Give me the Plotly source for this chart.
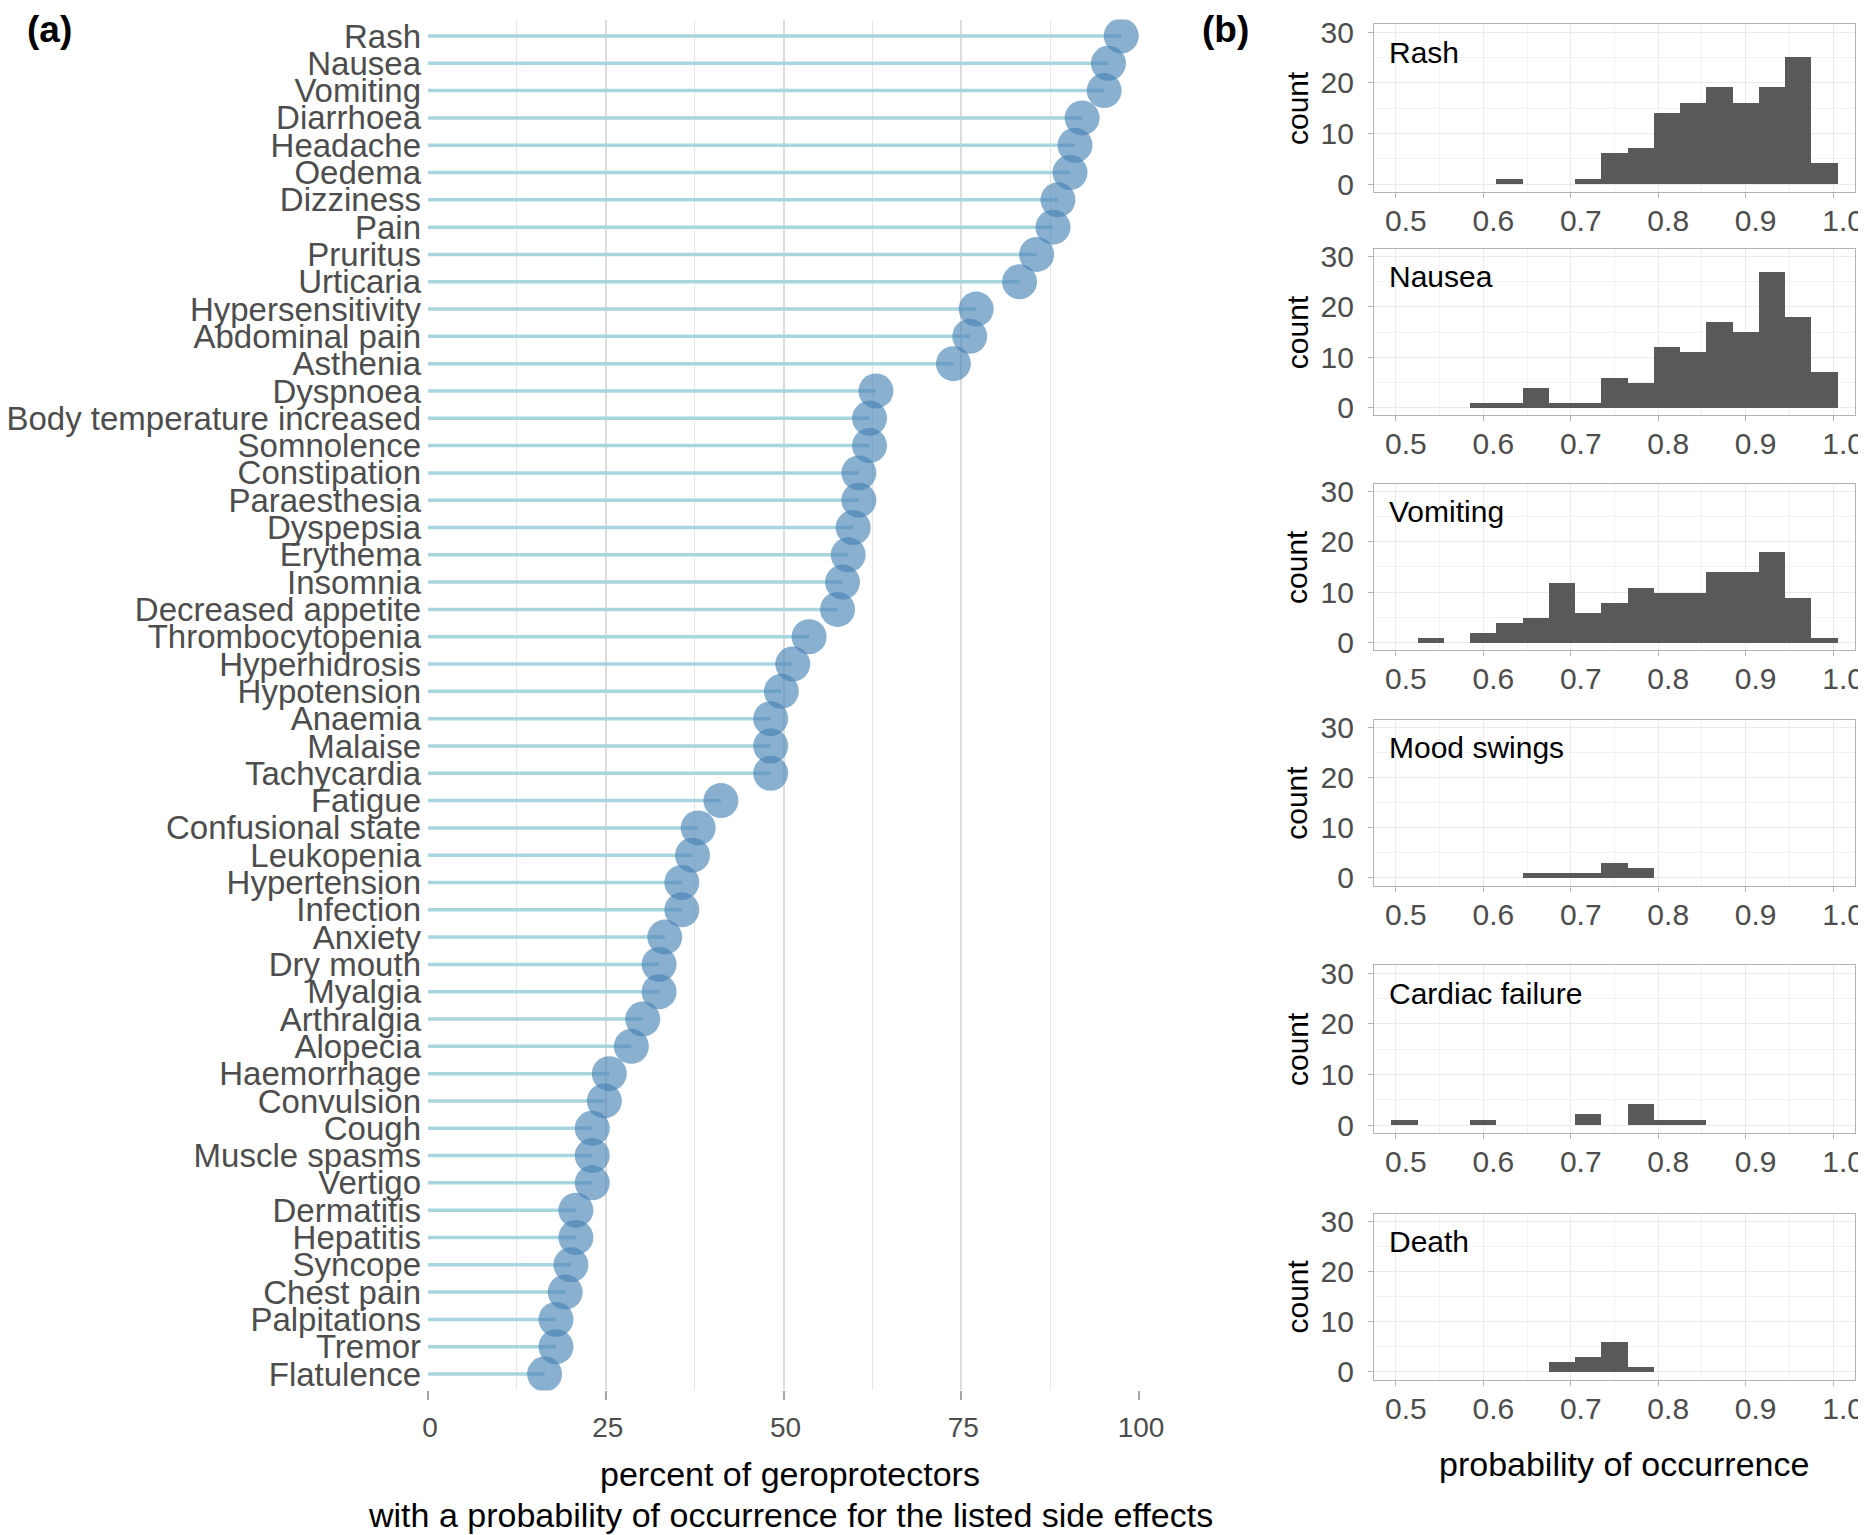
import plotly.graph_objects as go

# ---------------- data ----------------
side_effects = ["Rash", "Nausea", "Vomiting", "Diarrhoea", "Headache", "Oedema", "Dizziness", "Pain",
                "Pruritus", "Urticaria", "Hypersensitivity", "Abdominal pain", "Asthenia", "Dyspnoea",
                "Body temperature increased", "Somnolence", "Constipation", "Paraesthesia", "Dyspepsia",
                "Erythema", "Insomnia", "Decreased appetite", "Thrombocytopenia", "Hyperhidrosis",
                "Hypotension", "Anaemia", "Malaise", "Tachycardia", "Fatigue", "Confusional state",
                "Leukopenia", "Hypertension", "Infection", "Anxiety", "Dry mouth", "Myalgia", "Arthralgia",
                "Alopecia", "Haemorrhage", "Convulsion", "Cough", "Muscle spasms", "Vertigo", "Dermatitis",
                "Hepatitis", "Syncope", "Chest pain", "Palpitations", "Tremor", "Flatulence"]
percent = [97.5, 95.7, 95.1, 92.0, 91.0, 90.3, 88.6, 87.9,
           85.6, 83.2, 77.1, 76.2, 73.9, 63.0,
           62.1, 62.1, 60.6, 60.6, 59.8,
           59.1, 58.3, 57.6, 53.6, 51.3,
           49.7, 48.2, 48.2, 48.2, 41.2, 38.0,
           37.2, 35.7, 35.7, 33.3, 32.5, 32.5, 30.2,
           28.6, 25.5, 24.8, 23.1, 23.1, 23.1, 20.8,
           20.8, 20.1, 19.3, 18.0, 18.0, 16.4]

hist_names = ["Rash", "Nausea", "Vomiting", "Mood swings", "Cardiac failure", "Death"]
bin_width = 0.03
rash_bins = [0.63, 0.66, 0.69, 0.72, 0.75, 0.78, 0.81, 0.84, 0.87, 0.90, 0.93, 0.96, 0.99]
rash_counts = [1, 0, 0, 1, 6, 7, 14, 16, 19, 16, 19, 25, 4]
nausea_bins = [0.60, 0.63, 0.66, 0.69, 0.72, 0.75, 0.78, 0.81, 0.84, 0.87, 0.90, 0.93, 0.96, 0.99]
nausea_counts = [1, 1, 4, 1, 1, 6, 5, 12, 11, 17, 15, 27, 18, 7]
vomiting_bins = [0.54, 0.57, 0.60, 0.63, 0.66, 0.69, 0.72, 0.75, 0.78, 0.81, 0.84, 0.87, 0.90, 0.93, 0.96, 0.99]
vomiting_counts = [1, 0, 2, 4, 5, 12, 6, 8, 11, 10, 10, 14, 14, 18, 9, 1]
mood_bins = [0.66, 0.69, 0.72, 0.75, 0.78]
mood_counts = [1, 1, 1, 3, 2]
cardiac_bins = [0.51, 0.54, 0.57, 0.60, 0.63, 0.66, 0.69, 0.72, 0.75, 0.78, 0.81, 0.84]
cardiac_counts = [1, 0, 0, 1, 0, 0, 0, 2, 0, 4, 1, 1]
death_bins = [0.69, 0.72, 0.75, 0.78]
death_counts = [2, 3, 6, 1]

hist_bins = [rash_bins, nausea_bins, vomiting_bins, mood_bins, cardiac_bins, death_bins]
hist_counts = [rash_counts, nausea_counts, vomiting_counts, mood_counts, cardiac_counts, death_counts]

x_ticks_left = [0, 25, 50, 75, 100]
hist_x_ticks = [0.5, 0.6, 0.7, 0.8, 0.9, 1.0]
hist_y_ticks = [0, 10, 20, 30]

# ---------------- layout helpers ----------------
W, H = 1866, 1535
FONT = "Liberation Sans, Arial, Helvetica, sans-serif"
TICK_COL = "#4d4d4d"


def xd(a, b):
    return [a / W, b / W]


def yd(top, bottom):
    return [1 - bottom / H, 1 - top / H]


fig = go.Figure()

# ---------------- panel (a): lollipop ----------------
seg_x, seg_y = [], []
for name, v in zip(side_effects, percent):
    seg_x += [0, v, None]
    seg_y += [name, name, None]

fig.add_trace(go.Scatter(x=seg_x, y=seg_y, mode="lines",
                         line=dict(color="#a8d5de", width=3.5),
                         xaxis="x", yaxis="y", showlegend=False, hoverinfo="skip"))
fig.add_trace(go.Scatter(x=percent, y=side_effects, mode="markers",
                         marker=dict(color="steelblue", size=35, opacity=0.63, line=dict(width=0)),
                         xaxis="x", yaxis="y", showlegend=False))

fig.update_layout(
    xaxis=dict(domain=xd(420, 1131), range=[0, 100], anchor="y", automargin=False,
               tickmode="array", tickvals=x_ticks_left, ticktext=[str(t) for t in x_ticks_left],
               showgrid=True, gridcolor="#dcdcdc", gridwidth=1.5,
               minor=dict(dtick=12.5, tick0=0, showgrid=True, gridcolor="#e6e6e6", gridwidth=1),
               ticks="outside", ticklen=9, tickwidth=1.5, tickcolor="#a6a6a6",
               ticklabelstandoff=3, ticklabelshift=2,
               tickfont=dict(family=FONT, size=28, color=TICK_COL),
               showline=False, zeroline=False),
    yaxis=dict(domain=yd(11.6, 1382.4), type="category", categoryorder="array",
               categoryarray=side_effects, range=[len(side_effects) - 0.4, -0.6],
               anchor="x", automargin=False, tickmode="linear", tick0=0, dtick=1,
               showgrid=False, zeroline=False, showline=False, ticks="",
               ticklabelstandoff=6,
               tickfont=dict(family=FONT, size=33, color=TICK_COL)),
)

annotations = [
    dict(text="<b>(a)</b>", x=17 / W, y=1 - 22 / H, xref="paper", yref="paper",
         xanchor="left", yanchor="middle", showarrow=False,
         font=dict(family=FONT, size=37, color="black")),
    dict(text="<b>(b)</b>", x=1192 / W, y=1 - 22 / H, xref="paper", yref="paper",
         xanchor="left", yanchor="middle", showarrow=False,
         font=dict(family=FONT, size=37, color="black")),
    dict(text="percent of geroprotectors", x=782 / W, y=1 - 1466 / H, xref="paper", yref="paper",
         xanchor="center", yanchor="middle", showarrow=False,
         font=dict(family=FONT, size=34, color="black")),
    dict(text="with a probability of occurrence for the listed side effects", x=782 / W, y=1 - 1507 / H,
         xref="paper", yref="paper", xanchor="center", yanchor="middle", showarrow=False,
         font=dict(family=FONT, size=34, color="black")),
    dict(text="probability of occurrence", x=1616 / W, y=1 - 1456 / H, xref="paper", yref="paper",
         xanchor="center", yanchor="middle", showarrow=False,
         font=dict(family=FONT, size=34, color="black")),
]

# ---------------- panel (b): histograms ----------------
panel_px = [(16.4, 183.6), (241, 407.3), (475.6, 642.3), (712, 877.5), (957.4, 1124.6), (1205.5, 1371.5)]
hx0, hx1 = 1366, 1847

for i, (name, bins, counts, (top, bot)) in enumerate(zip(hist_names, hist_bins, hist_counts, panel_px)):
    k = i + 2
    xa, ya = f"x{k}", f"y{k}"
    fig.add_trace(go.Bar(x=bins, y=counts, width=[bin_width] * len(bins),
                         marker=dict(color="#595959", line=dict(width=0)),
                         xaxis=xa, yaxis=ya, showlegend=False))
    fig.layout[f"xaxis{k}"] = dict(
        domain=xd(hx0, hx1), range=[0.475, 1.025], anchor=ya, automargin=False,
        tickmode="array", tickvals=hist_x_ticks, ticktext=[f"{t:.1f}" for t in hist_x_ticks],
        showgrid=True, gridcolor="#ebebeb", gridwidth=1.2,
        minor=dict(dtick=0.05, tick0=0.5, showgrid=True, gridcolor="#f2f2f2", gridwidth=0.8),
        ticks="outside", ticklen=5, tickwidth=1, tickcolor="#b3b3b3",
        ticklabelstandoff=-3, ticklabelshift=10,
        tickfont=dict(family=FONT, size=30, color=TICK_COL),
        showline=True, linecolor="#b3b3b3", linewidth=1.2, mirror=True, zeroline=False)
    fig.layout[f"yaxis{k}"] = dict(
        domain=yd(top, bot), range=[-1.5, 31.5], anchor=xa, automargin=False,
        tickmode="array", tickvals=hist_y_ticks, ticktext=[str(t) for t in hist_y_ticks],
        showgrid=True, gridcolor="#ebebeb", gridwidth=1.2,
        minor=dict(dtick=5, tick0=0, showgrid=True, gridcolor="#f2f2f2", gridwidth=0.8),
        ticks="outside", ticklen=5, tickwidth=1, tickcolor="#b3b3b3",
        ticklabelstandoff=8,
        tickfont=dict(family=FONT, size=30, color=TICK_COL),
        showline=True, linecolor="#b3b3b3", linewidth=1.2, mirror=True, zeroline=False)
    annotations.append(dict(text=name, x=0.49, y=26, xref=xa, yref=ya,
                            xanchor="left", yanchor="middle", showarrow=False,
                            font=dict(family=FONT, size=30, color="black")))
    annotations.append(dict(text="count", x=1289 / W, y=1 - (top + bot) / 2 / H,
                            xref="paper", yref="paper", textangle=-90,
                            xanchor="center", yanchor="middle", showarrow=False,
                            font=dict(family=FONT, size=30, color="black")))

fig.update_layout(
    width=W, height=H, margin=dict(l=0, r=0, t=0, b=0, autoexpand=False),
    paper_bgcolor="white", plot_bgcolor="white",
    bargap=0, annotations=annotations,
    font=dict(family=FONT),
)

fig.write_html("out.html")
